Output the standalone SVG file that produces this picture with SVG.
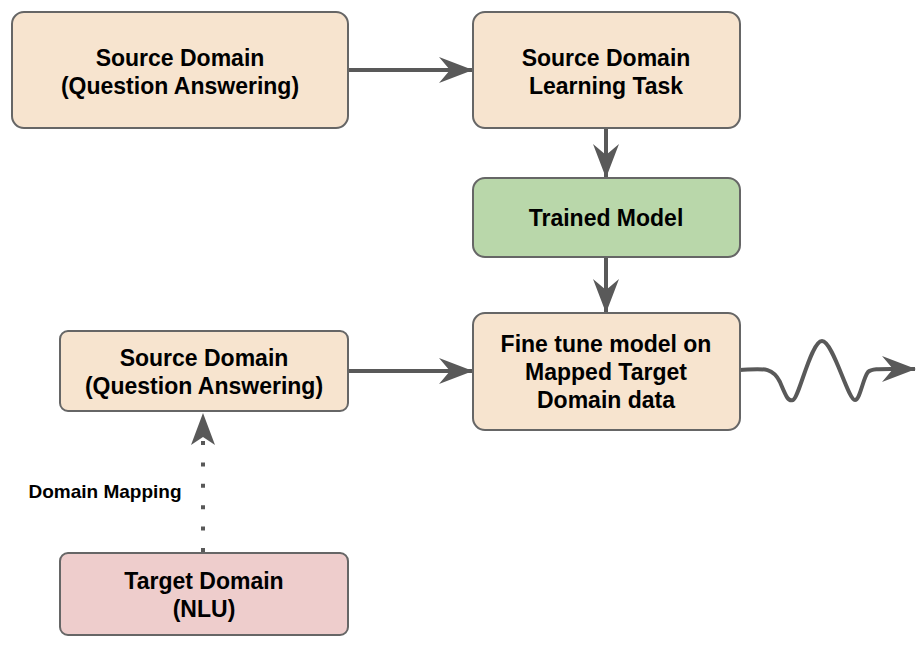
<svg xmlns="http://www.w3.org/2000/svg" width="922" height="646" viewBox="0 0 922 646">
<defs>
<marker id="ah" viewBox="0 0 34 26" refX="33" refY="13" markerWidth="34" markerHeight="26" markerUnits="userSpaceOnUse" orient="auto">
<path d="M0,0 L34,13 L0,26 L11,13 Z" fill="#595959"/>
</marker>
<style>
.box{stroke:#666666;stroke-width:2}
.peach{fill:#f7e4cf}
.green{fill:#b9d7aa}
.pink{fill:#eecdcc}
.t{font-family:"Liberation Sans",Arial,sans-serif;font-weight:bold;font-size:23px;fill:#000;text-anchor:middle}
.c{stroke:#595959;stroke-width:4;fill:none}
</style>
</defs>
<rect width="922" height="646" fill="#ffffff"/>
<g id="connectors">
<path class="c" d="M348,70 L472,70" marker-end="url(#ah)"/>
<path class="c" d="M606,128 L606,177" marker-end="url(#ah)"/>
<path class="c" d="M606,257 L606,312" marker-end="url(#ah)"/>
<path class="c" d="M348,371 L472,371" marker-end="url(#ah)"/>
<path class="c" d="M203,552 L203,440" stroke-dasharray="4 17.4"/>
<path d="M203,413 L215,445 L203,437 L191,445 Z" fill="#595959"/>
<path class="c" d="M740,370 C762,369 772,366 780,382 C786,396 788,402 793,400 C799,398 811,341 822,341 C833,341 848,400 855,400 C860,400 863,378 868,372 C872,368 880,369 915,369" marker-end="url(#ah)"/>
</g>
<g id="n1"><rect class="box peach" x="12" y="12" width="336" height="116" rx="12"/>
<text class="t" x="180" y="66">Source Domain</text><text class="t" x="180" y="94">(Question Answering)</text></g>
<g id="n2"><rect class="box peach" x="473" y="12" width="267" height="116" rx="12"/>
<text class="t" x="606" y="66">Source Domain</text><text class="t" x="606" y="94">Learning Task</text></g>
<g id="n3"><rect class="box green" x="473" y="178" width="267" height="79" rx="12"/>
<text class="t" x="606" y="226">Trained Model</text></g>
<g id="n4"><rect class="box peach" x="473" y="313" width="267" height="117" rx="12"/>
<text class="t" x="606" y="352">Fine tune model on</text><text class="t" x="606" y="380">Mapped Target</text><text class="t" x="606" y="408">Domain data</text></g>
<g id="n5"><rect class="box peach" x="60" y="331" width="288" height="80" rx="8"/>
<text class="t" x="204" y="366">Source Domain</text><text class="t" x="204" y="394">(Question Answering)</text></g>
<g id="n6"><rect class="box pink" x="60" y="553" width="288" height="82" rx="8"/>
<text class="t" x="204" y="589">Target Domain</text><text class="t" x="204" y="617">(NLU)</text></g>
<text x="105" y="498" style="font-family:'Liberation Sans',Arial,sans-serif;font-weight:bold;font-size:19px;text-anchor:middle">Domain Mapping</text>
</svg>
